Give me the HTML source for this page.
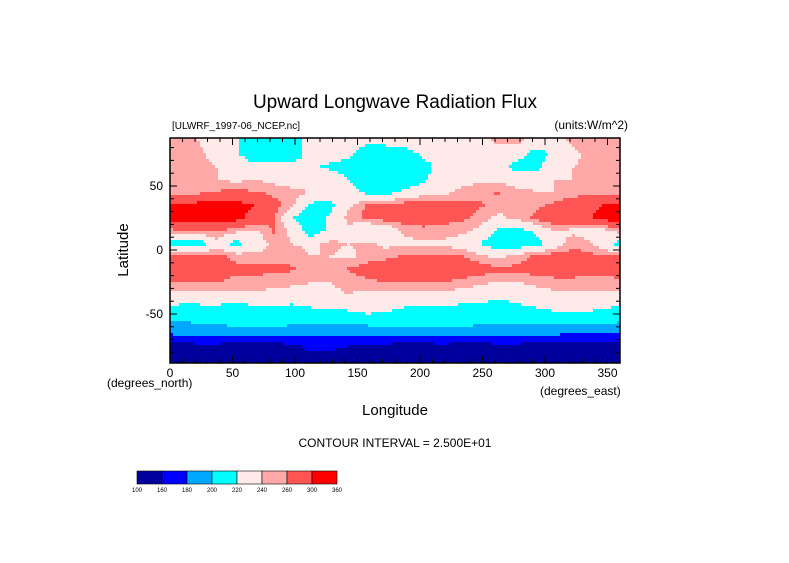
<!DOCTYPE html>
<html><head><meta charset="utf-8"><style>
body{margin:0;background:#fff;width:789px;height:558px;overflow:hidden;font-family:"Liberation Sans",sans-serif}
svg text{font-family:"Liberation Sans",sans-serif;fill:#000}
</style></head><body>
<svg id="s" width="789" height="558" xmlns="http://www.w3.org/2000/svg">
<text x="395" y="108" font-size="19" text-anchor="middle">Upward Longwave Radiation Flux</text>
<text x="172" y="129" font-size="10">[ULWRF_1997-06_NCEP.nc]</text>
<text x="628" y="129" font-size="12" text-anchor="end">(units:W/m^2)</text>
<g id="map"></g>
<rect x="170" y="138" width="450" height="225" fill="none" stroke="#000" stroke-width="1.5"/>
<g id="ticks"></g>
<text x="107" y="387" font-size="12">(degrees_north)</text>
<text x="540" y="395" font-size="12">(degrees_east)</text>
<text x="395" y="415" font-size="15" text-anchor="middle">Longitude</text>
<text transform="translate(128,250) rotate(-90)" font-size="15" text-anchor="middle">Latitude</text>
<text x="395" y="447" font-size="12" text-anchor="middle">CONTOUR INTERVAL = 2.500E+01</text>
<g id="cbar"></g>
</svg>
<script>
const lonTicks=[0,50,100,150,200,250,300,350];
const latTicks=[50,0,-50];
const levels=[160,180,200,220,245,260,290];
const colors=["#00009c","#0000ff","#00a8ff","#00ffff","#ffeaea","#ffa8a8","#ff5555","#ff0000"];
const cbarLabels=["100","160","180","200","220","240","260","300","360"];
const lats=[85,75,65,55,45,35,25,15,5,-5,-15,-25,-35,-45,-55,-65,-75,-85];
const flux=[
[250,245,235,225,205,200,205,230,235,230,225,230,235,240,235,235,235,250,250,235,235,250,255,255],
[250,250,235,225,200,200,205,230,235,225,205,200,205,225,235,235,235,235,230,210,225,240,250,250],
[255,255,245,240,230,230,230,225,215,210,205,200,200,210,230,235,240,235,210,210,240,245,250,255],
[255,250,245,240,245,240,235,235,235,220,205,200,205,215,235,240,240,240,235,240,245,245,250,255],
[250,255,262,265,262,255,250,245,235,230,215,210,225,235,240,248,255,262,250,245,245,250,255,255],
[292,300,305,300,290,270,250,215,210,240,262,265,270,270,270,265,262,255,245,255,265,275,285,295],
[300,305,305,300,280,262,220,205,225,250,265,270,270,270,265,265,255,240,250,265,275,280,290,305],
[265,262,262,250,240,262,240,205,225,240,215,225,250,255,255,250,240,215,210,225,245,240,235,240],
[205,205,235,210,230,250,245,240,250,245,250,240,240,240,240,235,220,205,205,210,230,255,245,220],
[262,265,265,255,250,250,255,245,245,240,250,255,262,265,265,262,250,240,250,265,270,270,265,265],
[270,270,270,265,265,265,262,255,250,262,270,275,275,280,280,275,270,265,265,270,270,270,265,265],
[262,262,262,255,255,250,250,245,245,250,255,262,262,262,262,255,250,245,245,250,255,255,255,255],
[235,235,240,240,240,240,235,240,240,245,240,240,240,240,240,235,230,225,230,235,240,240,240,240],
[215,215,215,210,215,215,215,220,220,225,230,225,220,215,215,215,215,210,215,220,225,225,225,220],
[200,205,205,210,210,210,205,205,205,205,210,210,210,210,210,210,205,205,205,205,205,205,205,205],
[185,185,185,190,190,190,190,185,185,185,185,185,190,190,190,190,190,190,185,185,185,180,180,180],
[150,155,155,150,150,150,155,165,165,160,155,155,150,150,155,150,150,155,155,150,150,150,150,150],
[150,150,150,150,150,150,150,155,150,150,150,150,150,150,150,150,150,150,150,150,150,150,150,150]];
const NS="http://www.w3.org/2000/svg";
const xS=lon=>170+lon*1.25;
const yS=lat=>250-lat*1.28;
function col(v){let i=0;while(i<levels.length&&v>=levels[i])i++;return colors[i];}
function val(lon,lat){
  const nc=flux[0].length,dl=360/nc;
  let fx=(lon/dl)-0.5; let c0=Math.floor(fx),t=fx-c0;
  let fy=(85-lat)/10; fy=Math.max(0,Math.min(lats.length-1,fy));
  let r0=Math.floor(fy),u=fy-r0; let r1=Math.min(r0+1,lats.length-1);
  const g=(r,c)=>flux[r][((c%nc)+nc)%nc];
  const a=g(r0,c0)*(1-t)+g(r0,c0+1)*t, b=g(r1,c0)*(1-t)+g(r1,c0+1)*t;
  return a*(1-u)+b*u;
}
const map=document.getElementById('map');
const step=3;
for(let py=138;py<363;py+=step){
  for(let px=170;px<620;px+=step){
    const lon=(px+step/2-170)/1.25, lat=(250-(py+step/2))/1.28;
    const r=document.createElementNS(NS,'rect');
    r.setAttribute('x',px);r.setAttribute('y',py);r.setAttribute('width',step+0.3);r.setAttribute('height',step+0.3);
    r.setAttribute('fill',col(val(lon,lat)));
    
    
    map.appendChild(r);
  }
}
const tk=document.getElementById('ticks');
function line(x1,y1,x2,y2){const l=document.createElementNS(NS,'line');l.setAttribute('x1',x1);l.setAttribute('y1',y1);l.setAttribute('x2',x2);l.setAttribute('y2',y2);l.setAttribute('stroke','#000');


tk.appendChild(l);}
function txt(x,y,s,anchor,name){const t=document.createElementNS(NS,'text');t.setAttribute('x',x);t.setAttribute('y',y);t.setAttribute('font-size','12');t.setAttribute('text-anchor',anchor);t.textContent=s;


tk.appendChild(t);}
for(let lon=0;lon<=360;lon+=10){const x=xS(lon),m=lon%50===0?7:4;line(x,363,x,363-m);line(x,138,x,138+m);}
lonTicks.forEach(l=>txt(xS(l),377,String(l),'middle','x-tick-label'));
for(let lat=-80;lat<=80;lat+=10){const y=yS(lat),m=lat%50===0?7:4;line(170,y,170+m,y);line(620,y,620-m,y);}
latTicks.forEach(l=>txt(163,yS(l)+4,String(l),'end','y-tick-label'));
const cb=document.getElementById('cbar');
const cw=200/colors.length;
colors.forEach((c,i)=>{const r=document.createElementNS(NS,'rect');r.setAttribute('x',137+i*cw);r.setAttribute('y',471);r.setAttribute('width',cw);r.setAttribute('height',13);r.setAttribute('fill',c);r.setAttribute('stroke','#000');r.setAttribute('stroke-width','0.6');


cb.appendChild(r);});
cbarLabels.forEach((s,i)=>{const t=document.createElementNS(NS,'text');t.setAttribute('x',137+i*cw);t.setAttribute('y',492);t.setAttribute('font-size','6');t.setAttribute('text-anchor','middle');t.textContent=s;


cb.appendChild(t);});
</script>
</body></html>
